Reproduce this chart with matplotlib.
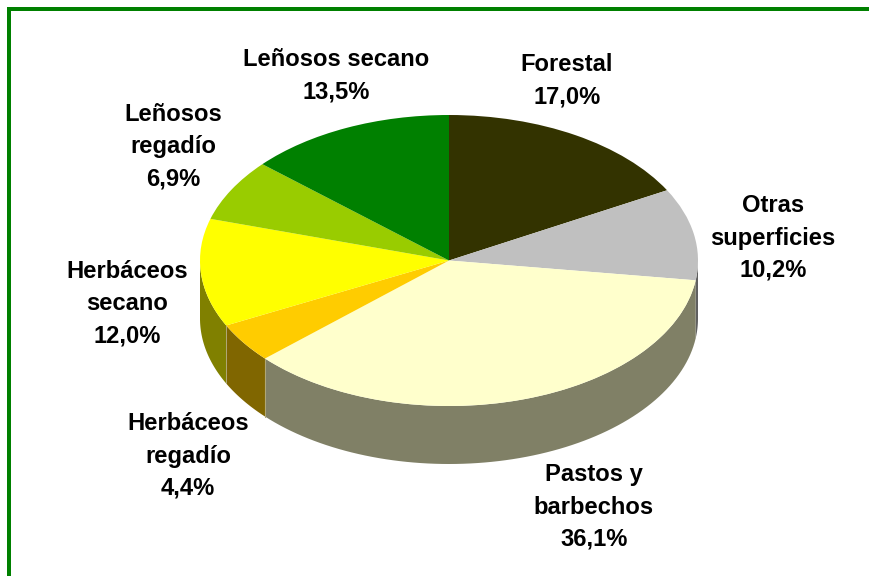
#!/usr/bin/env python3
# -*- coding: utf-8 -*-
import numpy as np
import matplotlib
matplotlib.use('Agg')
import matplotlib.pyplot as plt

plt.rcParams['font.family'] = ['Liberation Sans', 'DejaVu Sans']

# data, clockwise from 12 o'clock
categorias = ['Forestal', 'Otras\nsuperficies', 'Pastos y\nbarbechos', 'Herbáceos\nregadío',
              'Herbáceos\nsecano', 'Leñosos\nregadío', 'Leñosos secano']
porcentajes = [17.0, 10.2, 36.1, 4.4, 12.0, 6.9, 13.5]
colores = ['#333300', '#C0C0C0', '#FFFFCC', '#FFCC00', '#FFFF00', '#99CC00', '#008000']
colores_lado = ['#1A1A00', '#606060', '#808066', '#806600', '#808000', '#4D6600', '#004000']
etiquetas_x = [567, 773, 594, 188, 127, 173, 336]
etiquetas_y = [81, 238, 507, 456, 304, 147, 76]

W, H = 870, 576
cx, cy, rx, ry, alto = 449, 260.5, 249, 145.5, 58

fig = plt.figure(figsize=(W / 100, H / 100), dpi=100)

# pie axes: one data unit is rx pixels across and ry pixels down
ax = fig.add_axes([0, 0, 1, 1])
ax.pie(porcentajes, colors=colores, startangle=90, counterclock=False, radius=1,
       wedgeprops=dict(linewidth=0))
ax.set_aspect('auto')
ax.set_xlim(-cx / rx, (W - cx) / rx)
ax.set_ylim((cy - H) / ry, cy / ry)
ax.set_axis_off()

# side wall of the pie, only the front half shows
prof = alto / ry
fracs = np.array(porcentajes) / sum(porcentajes)
bordes = np.concatenate([[0], np.cumsum(fracs)]) * 2 * np.pi
for i in range(len(porcentajes)):
    t0 = max(bordes[i], np.pi / 2)
    t1 = min(bordes[i + 1], 3 * np.pi / 2)
    if t1 <= t0:
        continue
    t = np.linspace(t0, t1, 80)
    xs = np.sin(t)
    ys = np.cos(t)
    ax.fill(np.concatenate([xs, xs[::-1]]), np.concatenate([ys, ys[::-1] - prof]),
            color=colores_lado[i], linewidth=0, zorder=0)
    if i > 2:
        ax.plot([xs[0], xs[0]], [ys[0], ys[0] - prof], color='#B0A878', lw=0.7, zorder=0.5)

# green frame, open at right and bottom
fig.add_artist(plt.Rectangle((7 / W, 0), 4 / W, 1 - 7 / H, transform=fig.transFigure,
                             color='#008000', linewidth=0))
fig.add_artist(plt.Rectangle((7 / W, 1 - 11 / H), 1 - 7 / W, 4 / H, transform=fig.transFigure,
                             color='#008000', linewidth=0))

for nombre, p, x, y in zip(categorias, porcentajes, etiquetas_x, etiquetas_y):
    texto = nombre + '\n' + f'{p:.1f}'.replace('.', ',') + '%'
    fig.text(x / W, 1 - y / H, texto, ha='center', va='center', fontsize=17.1,
             fontweight='bold', color='black', linespacing=1.52)

fig.savefig('out.png', dpi=100, facecolor='white')
